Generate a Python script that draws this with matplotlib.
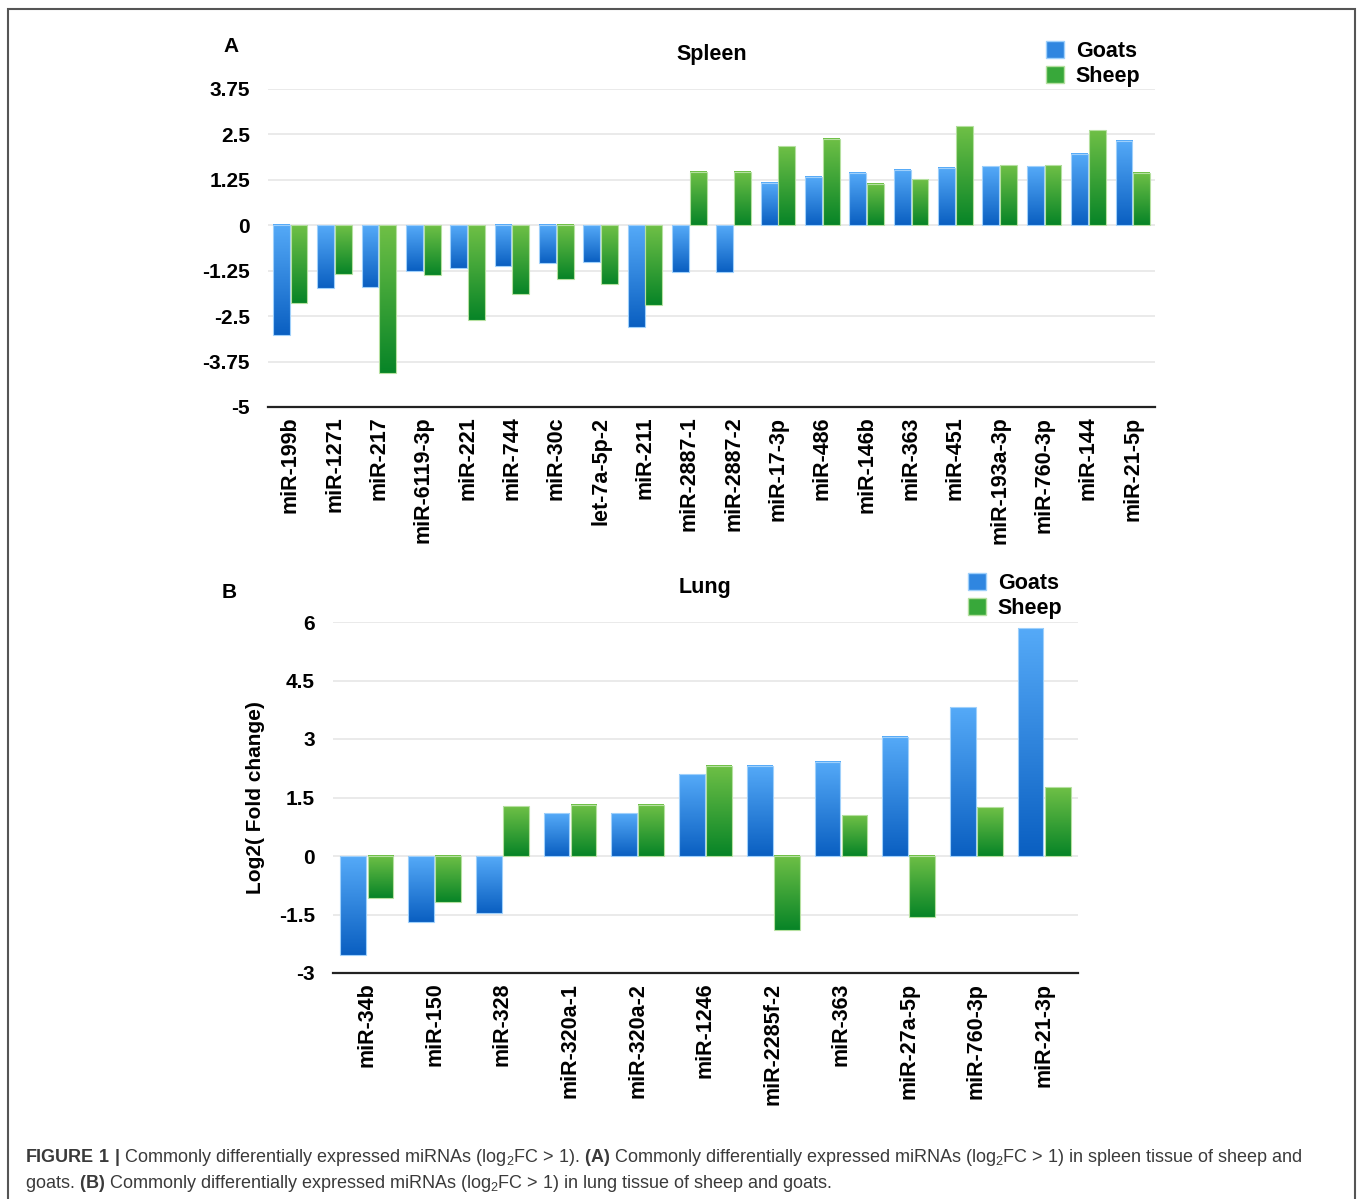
import numpy as np
import matplotlib.pyplot as plt
from matplotlib.patches import Patch, Rectangle
from matplotlib.colors import LinearSegmentedColormap

plt.rcParams['font.family'] = ['Liberation Sans', 'DejaVu Sans']
plt.rcParams['mathtext.fontset'] = 'custom'
plt.rcParams['mathtext.rm'] = 'Liberation Sans'
plt.rcParams['mathtext.bf'] = 'Liberation Sans:bold'
plt.rcParams['mathtext.default'] = 'regular'

# spleen data (log2 fold change)
spleen_mirnas = ['miR-199b', 'miR-1271', 'miR-217', 'miR-6119-3p', 'miR-221', 'miR-744',
                 'miR-30c', 'let-7a-5p-2', 'miR-211', 'miR-2887-1', 'miR-2887-2', 'miR-17-3p',
                 'miR-486', 'miR-146b', 'miR-363', 'miR-451', 'miR-193a-3p', 'miR-760-3p',
                 'miR-144', 'miR-21-5p']
spleen_goats = [-3.03, -1.72, -1.69, -1.25, -1.17, -1.13, -1.05, -1.01, -2.80, -1.28,
                -1.28, 1.17, 1.34, 1.45, 1.53, 1.58, 1.62, 1.62, 1.97, 2.33]
spleen_sheep = [-2.13, -1.33, -4.07, -1.37, -2.61, -1.88, -1.49, -1.61, -2.20, 1.47,
                1.47, 2.17, 2.37, 1.14, 1.26, 2.72, 1.65, 1.65, 2.61, 1.45]
spleen_ticks = [-5, -3.75, -2.5, -1.25, 0, 1.25, 2.5, 3.75]

# lung data
lung_mirnas = ['miR-34b', 'miR-150', 'miR-328', 'miR-320a-1', 'miR-320a-2', 'miR-1246',
               'miR-2285f-2', 'miR-363', 'miR-27a-5p', 'miR-760-3p', 'miR-21-3p']
lung_goats = [-2.53, -1.68, -1.46, 1.09, 1.09, 2.10, 2.32, 2.42, 3.06, 3.81, 5.84]
lung_sheep = [-1.08, -1.19, 1.28, 1.31, 1.31, 2.32, -1.90, 1.05, -1.57, 1.25, 1.76]
lung_ticks = [-3, -1.5, 0, 1.5, 3, 4.5, 6]

blue_cmap = LinearSegmentedColormap.from_list('blue', ['#0a5fc1', '#55aaf8'])
green_cmap = LinearSegmentedColormap.from_list('green', ['#078427', '#6fc046'])
grad = np.linspace(0, 1, 256).reshape(-1, 1)


def gradient_bars(ax, x, vals, cmap, edge):
    bars = ax.bar(x, vals, width=0.38, color='none', edgecolor='none', zorder=3)
    for b in bars:
        x0, y0 = b.get_x(), min(b.get_y(), b.get_y() + b.get_height())
        w, h = b.get_width(), abs(b.get_height())
        ax.imshow(grad, cmap=cmap, origin='lower', aspect='auto',
                  extent=[x0, x0 + w, y0, y0 + h], zorder=3, interpolation='bicubic')
        ax.add_patch(Rectangle((x0, y0), w, h, fill=False, edgecolor=edge, lw=0.8, zorder=4))


def panel(ax, names, goats, sheep, ticks, title, legend_pos):
    x = np.arange(len(names))
    gradient_bars(ax, x - 0.2, goats, blue_cmap, '#9fd0fb')
    gradient_bars(ax, x + 0.2, sheep, green_cmap, '#b5e0a0')
    ax.set_xlim(-0.5, len(names) - 0.5)
    ax.set_ylim(ticks[0], ticks[-1])
    ax.set_yticks(ticks)
    ax.set_yticklabels([f'{t:g}' for t in ticks], fontsize=15, fontweight='bold')
    ax.set_xticks(x)
    ax.set_xticklabels(names, rotation=90, fontsize=15.5, fontweight='bold')
    ax.tick_params(length=0, axis='y', pad=13)
    ax.tick_params(length=0, axis='x', pad=7)
    for t in ticks[1:]:
        ax.axhline(t, color='#e6e6e6', lw=1.2, zorder=1)
    for s in ['top', 'right', 'left']:
        ax.spines[s].set_visible(False)
    ax.spines['bottom'].set_color('#222222')
    ax.spines['bottom'].set_linewidth(1.6)
    ax.set_title(title, fontsize=15.5, fontweight='bold', pad=21)
    handles = [Patch(facecolor='#2f86e0', edgecolor='#9fd0fb', label='Goats'),
               Patch(facecolor='#38a83a', edgecolor='#b5e0a0', label='Sheep')]
    fig.legend(handles=handles, loc='upper left', bbox_to_anchor=legend_pos, frameon=False,
               prop={'size': 15.5, 'weight': 'bold'}, handlelength=0.85, handleheight=0.85,
               handletextpad=0.55, labelspacing=0.2, borderpad=0)


fig = plt.figure(figsize=(13.57, 11.99), dpi=100)

ax1 = fig.add_axes([268 / 1357, 1 - 407 / 1199, 887 / 1357, 318 / 1199])
panel(ax1, spleen_mirnas, spleen_goats, spleen_sheep, spleen_ticks, 'Spleen',
      (1035 / 1357, 1 - 30 / 1199))
fig.text(231 / 1357, 1 - 47 / 1199, 'A', fontsize=15, fontweight='bold', ha='center', va='center')

ax2 = fig.add_axes([333 / 1357, 1 - 973 / 1199, 745 / 1357, 351 / 1199])
panel(ax2, lung_mirnas, lung_goats, lung_sheep, lung_ticks, 'Lung',
      (957 / 1357, 1 - 562 / 1199))
fig.text(229 / 1357, 1 - 592 / 1199, 'B', fontsize=15, fontweight='bold', ha='center', va='center')
ax2.set_ylabel('Log2( Fold change)', fontsize=15, fontweight='bold', labelpad=10)

# caption
cap1 = (r'$\mathbf{FIGURE\ 1\ |}$ Commonly differentially expressed miRNAs (log$_2$FC > 1). '
        r'$\mathbf{(A)}$ Commonly differentially expressed miRNAs (log$_2$FC > 1) in spleen tissue of sheep and')
cap2 = (r'goats. $\mathbf{(B)}$ Commonly differentially expressed miRNAs (log$_2$FC > 1) '
        r'in lung tissue of sheep and goats.')
fig.text(25 / 1357, 1 - 1158 / 1199, cap1, fontsize=13, color='#3a3a3a', va='center')
fig.text(25 / 1357, 1 - 1183 / 1199, cap2, fontsize=13, color='#3a3a3a', va='center')

# border round the figure
fig.add_artist(Rectangle((8 / 1357, -0.05), 1347 / 1357, 1.05 - 9 / 1199, fill=False,
                         edgecolor='#555555', lw=1.5, transform=fig.transFigure))

fig.savefig('out.png', dpi=100)
